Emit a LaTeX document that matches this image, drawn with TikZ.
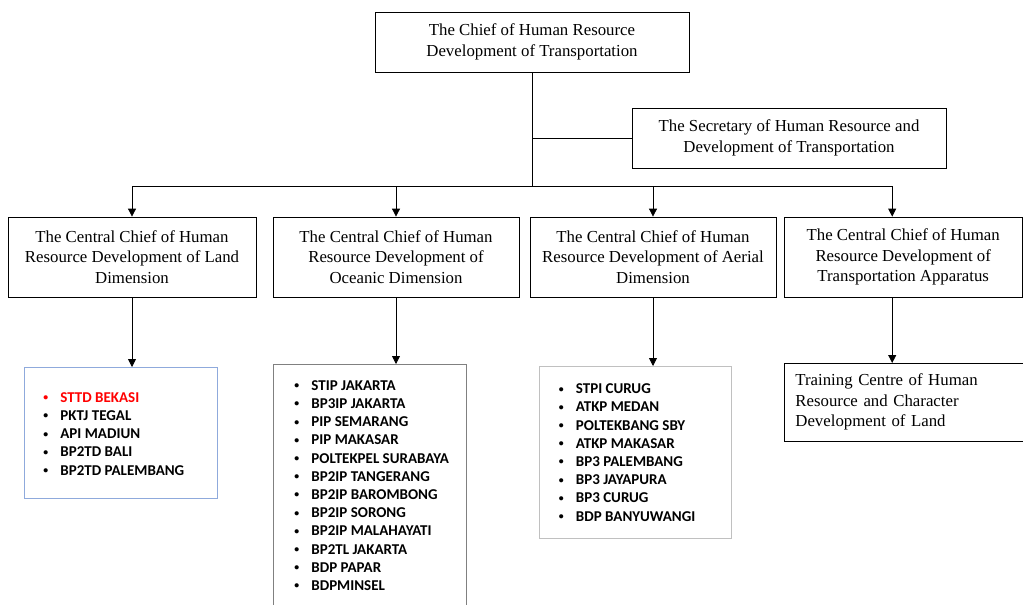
\documentclass[tikz,border=0pt]{standalone}
\usepackage{fontspec}
\setmainfont{Liberation Serif}
\newfontfamily\unitfont{Carlito}
\usetikzlibrary{arrows.meta}

\definecolor{landblue}{HTML}{8FAADC}
\definecolor{oceangray}{HTML}{808080}
\definecolor{airgray}{HTML}{C0C0C0}
\definecolor{sttdred}{HTML}{FF0000}

\newlength\unitgap
\setlength\unitgap{16pt}
\newcommand{\unitdot}{\raisebox{1.6pt}{\scalebox{0.65}{\textbullet}}}
\newcommand{\unititem}[1]{\mbox{\makebox[\unitgap][l]{\hspace{-1pt}\unitdot}#1}\par}

\begin{document}
\begin{tikzpicture}[x=1pt,y=-1pt,
    office/.style={draw, line width=0.8pt, inner sep=0pt, align=center,
      font=\fontsize{16.8}{20.5}\selectfont},
    units/.style={draw=#1, line width=0.8pt, anchor=north west, inner ysep=0pt,
      font=\unitfont\bfseries\fontsize{15}{18.2}\selectfont},
    link/.style={line width=0.8pt},
    down/.style={link, -{Triangle[length=8pt,width=8pt]}}]

  \useasboundingbox (0,0) rectangle (1023,605);

  % the chief and the secretary
  \node[office, minimum width=314, minimum height=60] (chief) at (532,42)
    {The Chief of Human Resource\\Development of Transportation};
  \node[office, minimum width=314, minimum height=60] (secretary) at (789,138)
    {The Secretary of Human Resource and\\Development of Transportation};

  % central chiefs
  \node[office, minimum width=248, minimum height=80] (land) at (132,257)
    {The Central Chief of Human\\Resource Development of Land\\Dimension};
  \node[office, minimum width=246, minimum height=80] (ocean) at (396,257)
    {The Central Chief of Human\\Resource Development of\\Oceanic Dimension};
  \node[office, minimum width=246, minimum height=80] (air) at (653,257)
    {The Central Chief of Human\\Resource Development of Aerial\\Dimension};
  \node[office, minimum width=238.5, minimum height=80] (apparatus) at (903.2,257)
    {The Central Chief of Human\\Resource Development of\\Transportation Apparatus};

  % units under each chief
  \node[units=landblue, inner xsep=20pt] (landunits) at (24,367)
    {\parbox[t][131pt][t]{153pt}{\vspace*{25pt}%
      {\color{sttdred}\unititem{STTD BEKASI}}%
      \unititem{PKTJ TEGAL}%
      \unititem{API MADIUN}%
      \unititem{BP2TD BALI}%
      \unititem{BP2TD PALEMBANG}}};
  \node[units=oceangray, inner xsep=22pt] (oceanunits) at (273,364)
    {\parbox[t][250pt][t]{149pt}{\vspace*{16pt}%
      \unititem{STIP JAKARTA}%
      \unititem{BP3IP JAKARTA}%
      \unititem{PIP SEMARANG}%
      \unititem{PIP MAKASAR}%
      \unititem{POLTEKPEL SURABAYA}%
      \unititem{BP2IP TANGERANG}%
      \unititem{BP2IP BAROMBONG}%
      \unititem{BP2IP SORONG}%
      \unititem{BP2IP MALAHAYATI}%
      \unititem{BP2TL JAKARTA}%
      \unititem{BDP PAPAR}%
      \unititem{BDPMINSEL}}};
  \node[units=airgray, inner xsep=21pt] (airunits) at (538.5,366)
    {\parbox[t][172pt][t]{150.5pt}{\vspace*{17.5pt}%
      \unititem{STPI CURUG}%
      \unititem{ATKP MEDAN}%
      \unititem{POLTEKBANG SBY}%
      \unititem{ATKP MAKASAR}%
      \unititem{BP3 PALEMBANG}%
      \unititem{BP3 JAYAPURA}%
      \unititem{BP3 CURUG}%
      \unititem{BDP BANYUWANGI}}};
  \node[office, align=left, anchor=north west, inner xsep=11.5pt, text width=216pt,
    minimum width=239, minimum height=77.5] (training) at (783.5,363)
    {Training Centre of Human\\Resource and Character\\Development of Land};

  % connectors
  \coordinate (bar) at (0,186);
  \coordinate (split) at (chief.south |- bar);
  \coordinate (apphead) at ([xshift=-11pt]apparatus.north);
  \coordinate (appfoot) at ([xshift=-11pt]apparatus.south);
  \draw[link] (chief.south) -- (split);
  \draw[link] (chief.south |- secretary.west) -- (secretary.west);
  \foreach \n in {land,ocean,air}
    \draw[down] (split) -| (\n.north);
  \draw[down] (split) -| (apphead);
  \draw[down] (land.south) -- (land.south |- landunits.north);
  \draw[down] (ocean.south) -- (ocean.south |- oceanunits.north);
  \draw[down] (air.south) -- (air.south |- airunits.north);
  \draw[down] (appfoot) -- (appfoot |- training.north);
\end{tikzpicture}
\end{document}
